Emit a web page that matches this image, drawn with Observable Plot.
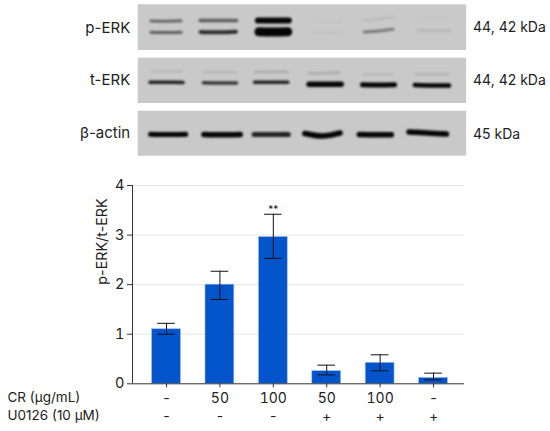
<!DOCTYPE html>
<html><head><meta charset="utf-8">
<script src="https://cdn.jsdelivr.net/npm/d3@7"></script>
<script src="https://cdn.jsdelivr.net/npm/@observablehq/plot@0.6"></script>
<style>
html,body{margin:0;padding:0;background:#fff}
svg{display:block}
.band{filter:blur(1px)}
</style></head><body>
<div id="blot"></div><div id="chart"></div>
<script>
// bar chart data
const lanes = [1,2,3,4,5,6];
const crLabels = ["-","50","100","50","100","-"];
const u0126Labels = ["-","-","-","+","+","+"];
const ratio = [1.1,2.0,2.96,0.255,0.423,0.12];
const errLow = [1.0,1.7,2.53,0.18,0.262,0.08];
const errHigh = [1.22,2.27,3.42,0.376,0.585,0.215];
const yTicks = [0,1,2,3,4];
const rowNames = ["CR (μg/mL)","U0126 (10 μM)"];
// blot panels
const panelNames = ["p-ERK","t-ERK","β-actin"];
const panelTop = [4.3,57.7,110.7];
const panelBottom = [50,103,155.7];
const panelMid = [27.3,79.8,132.5];
const weightMid = [27.5,80.5,134];
const panelWeights = ["44, 42 kDa","44, 42 kDa","45 kDa"];
// bands: lane centre, half length, migration at left / middle / right, thickness, darkness
const bandLane = [.99,1.97,3,4.02,4.97,6,  .99,1.97,3,4.02,4.97,6,  1,2,2.96,3.95,4.97,5.97,  1,2,2.96,3.97,4.97,5.97,  1.03,2.04,2.96,3.92,4.91,5.89];
const bandHalf = [.28,.34,.29,.25,.28,.25,  .28,.33,.27,.28,.27,.3,  .28,.3,.3,.28,.27,.3,  .31,.31,.31,.3,.3,.32,  .33,.34,.32,.33,.3,.35];
const bandLeft = [20.5,20,20,21,20,18, 31.7,31.5,31.3,32.5,31.5,30,  71,71.7,71.5,72.7,74,73.7,  81.7,82.3,81.7,83.7,84.3,84.5,  133.7,134,134,133,134,131.5];
const bandMid =  [20.7,20,20,21,18.5,18, 32,31.8,31.5,32.3,30.5,30,  71,71.7,71.5,72.7,74,73.7,  81.7,82.5,81.7,83.7,84.5,85,  134,134.3,134,135.5,134.3,132.5];
const bandRight =[20.3,20,20,21,16.5,18, 31.7,31.2,31.3,32,28.8,30,  71,71.7,71,72,74,73.7,  82,82.5,81.7,83.7,84.3,85,  133.7,134,134,132.5,134.3,133.5];
const bandThick = [3,3.5,6,1.5,1.5,1.5, 3,4,9,1.5,3,2.5,  2,2,2.5,2.5,2,2.5, 3.5,3.5,3.5,5.5,5,4.5, 5,5.5,5,5.5,5.5,5.5];
const bandDark =  [.5,.55,1,.03,.1,.03, .55,.8,1,.05,.4,.1, .1,.1,.15,.15,.1,.12, .85,.75,.85,1,1,1, 1,1,.85,1,1,1];

const bandPts = bandLane.flatMap((c,i)=>[-1,0,1].map((s,j)=>({id:i,x:c+s*bandHalf[i],y:[bandLeft,bandMid,bandRight][j][i],t:bandThick[i],d:bandDark[i]})));
const panels = panelNames.map((n,i)=>({n,t:panelTop[i],b:panelBottom[i],m:panelMid[i],wm:weightMid[i],w:panelWeights[i]}));
const font = "Inter, 'Liberation Sans', sans-serif";

const blot = Plot.plot({
  width:550,height:170,margin:0,
  style:{fontFamily:font,background:"#fff"},
  x:{domain:[-2.109,8.19],range:[0,550],axis:null},
  y:{domain:[0,170],range:[0,170],axis:null},
  marks:[
    Plot.rect(panels,{x1:()=>0.47,x2:()=>6.62,y1:"t",y2:"b",fill:"#c9c9c9"}),
    Plot.line(bandPts,{x:"x",y:"y",z:"id",curve:"catmull-rom",stroke:"#050505",strokeWidth:"t",strokeOpacity:"d",strokeLinecap:"round",className:"band"}),
    Plot.text(panels,{x:()=>0.32,y:"m",text:"n",textAnchor:"end",fontSize:15,fill:"#222"}),
    Plot.text(panels,{x:()=>6.74,y:"wm",text:"w",textAnchor:"start",fontSize:14,fill:"#222"})
  ]
});
document.getElementById("blot").append(blot);

const rows = lanes.map((g,i)=>({g,v:ratio[i],lo:errLow[i],hi:errHigh[i],cr:crLabels[i],u:u0126Labels[i]}));
const xLeft = 0.363;
const chart = Plot.plot({
  width:550,height:261,
  marginLeft:132,marginRight:86,marginTop:15,marginBottom:47.7,
  style:{fontFamily:font,background:"#fff",color:"#222"},
  x:{domain:[xLeft,6.58],axis:null},
  y:{domain:[0,4],axis:null},
  marks:[
    Plot.ruleY(yTicks.slice(1),{stroke:"#e6e6e6",strokeWidth:1}),
    Plot.rectY(rows,{x1:d=>d.g-0.27,x2:d=>d.g+0.27,y:"v",fill:"#0455cc",stroke:"#9dbcec",strokeWidth:0.6}),
    Plot.ruleX(rows,{x:"g",y1:"lo",y2:"hi",stroke:"#111"}),
    Plot.ruleY(rows,{x1:d=>d.g-0.165,x2:d=>d.g+0.165,y:"lo",stroke:"#111"}),
    Plot.ruleY(rows,{x1:d=>d.g-0.165,x2:d=>d.g+0.165,y:"hi",stroke:"#111"}),
    Plot.text(rows.filter(d=>d.g===3),{x:"g",y:"hi",text:()=>"**",dy:-4,fontSize:10,fill:"#111"}),
    Plot.axisY({ticks:yTicks,tickFormat:d3.format("d"),fontSize:14.5,tickSize:5,tickPadding:3,label:null,stroke:"#333",fill:"#222"}),
    Plot.axisX({ticks:lanes,tickFormat:d=>crLabels[d-1],fontSize:14,tickSize:4,tickPadding:5,label:null,stroke:"#333",fill:"#222"}),
    Plot.ruleY([0],{stroke:"#333"}),
    Plot.ruleX([xLeft],{stroke:"#333"}),
    Plot.text(["p-ERK/t-ERK"],{frameAnchor:"left",dx:-30,rotate:-90,fontSize:14.3,fill:"#222"}),
    Plot.text(rows,{x:"g",text:"u",frameAnchor:"bottom",lineAnchor:"middle",dy:33,fontSize:14,fill:"#222"}),
    Plot.text([rowNames[0]],{frameAnchor:"bottom-left",lineAnchor:"middle",dx:-125,dy:14,textAnchor:"start",fontSize:13.5,fill:"#222"}),
    Plot.text([rowNames[1]],{frameAnchor:"bottom-left",lineAnchor:"middle",dx:-125,dy:32,textAnchor:"start",fontSize:13.5,fill:"#222"})
  ]
});
document.getElementById("chart").append(chart);
</script></body></html>
